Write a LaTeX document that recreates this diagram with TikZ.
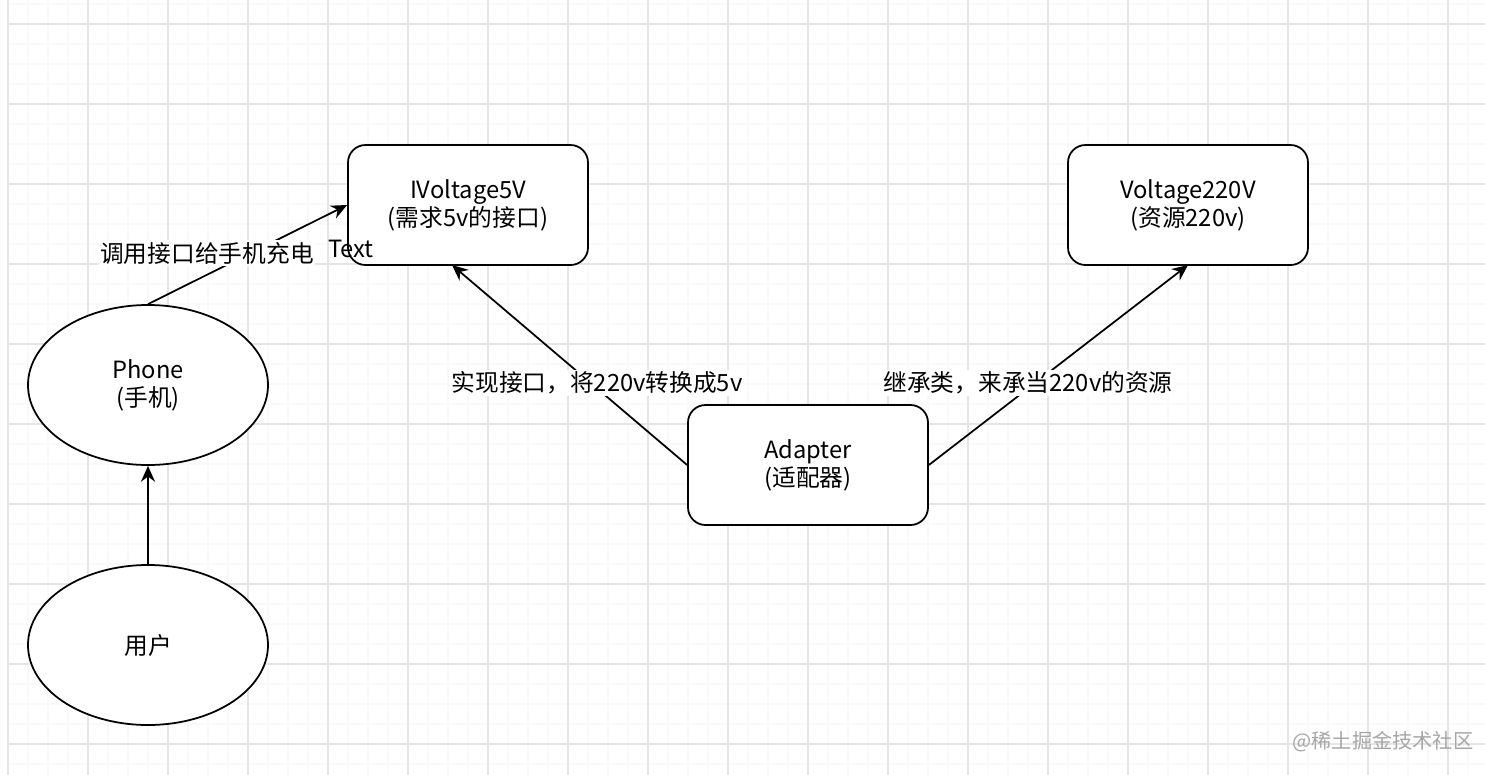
\documentclass[tikz,border=0pt]{standalone}
\usepackage{fontspec}
\setmainfont{Noto Sans CJK SC}
\usetikzlibrary{arrows.meta,shapes.geometric}
\begin{document}
\begin{tikzpicture}[x=0.02cm,y=-0.02cm,font=\fontsize{13.5}{16}\selectfont,
  box/.style={draw,line width=1pt,rounded corners=10pt,minimum width=240*0.02cm,minimum height=120*0.02cm,align=center,fill=white},
  ell/.style={draw,line width=1pt,ellipse,minimum width=240*0.02cm,minimum height=160*0.02cm,align=center,fill=white},
  conn/.style={line width=1pt,-{Stealth[length=9pt,width=8pt]}},
  lab/.style={fill=white,inner sep=1pt}]
\useasboundingbox (0,0) rectangle (1485,775);
\fill[white] (0,0) rectangle (1485,775);
\foreach \x in {28,48,...,1480} \draw[black!2.5,line width=0.6pt] (\x,0) -- (\x,775);
\foreach \y in {4,44,64,...,775} \draw[black!2.5,line width=0.6pt] (8,\y) -- (1485,\y);
\foreach \x in {88,168,...,1480} \draw[black!10,line width=0.7pt] (\x,0) -- (\x,775);
\foreach \y in {24,104,...,775} \draw[black!10,line width=0.7pt] (8,\y) -- (1485,\y);
\draw[black!10,line width=0.7pt] (8,0) -- (8,775);
\node[box] (iv) at (468,205) {IVoltage5V\\(需求5v的接口)};
\node[box] (v220) at (1188,205) {Voltage220V\\(资源220v)};
\node[box] (ad) at (808,465) {Adapter\\(适配器)};
\node[ell] (ph) at (148,385) {Phone\\(手机)};
\node[ell] (us) at (148,645) {用户};
\coordinate (ivin) at (452,265);
\coordinate (vin) at (1188,265);
\draw[conn] (us.north) -- (ph.south);
\draw[conn] (ph.north) -- (iv.west);
\node[lab] (l1) at (207,253) {调用接口给手机充电};
\node[inner sep=0pt] (l1b) at (351,249) {Text};
\draw[conn] (ad.west) -- (ivin);
\draw[conn] (ad.east) -- (vin);
\node[lab] (l2) at (597,383) {实现接口，将220v转换成5v};
\node[lab] (l3) at (1028,383) {继承类，来承当220v的资源};
\node[text=black!35,font=\fontsize{11.5}{13}\selectfont] (wm) at (1383,742) {@稀土掘金技术社区};
\end{tikzpicture}
\end{document}
